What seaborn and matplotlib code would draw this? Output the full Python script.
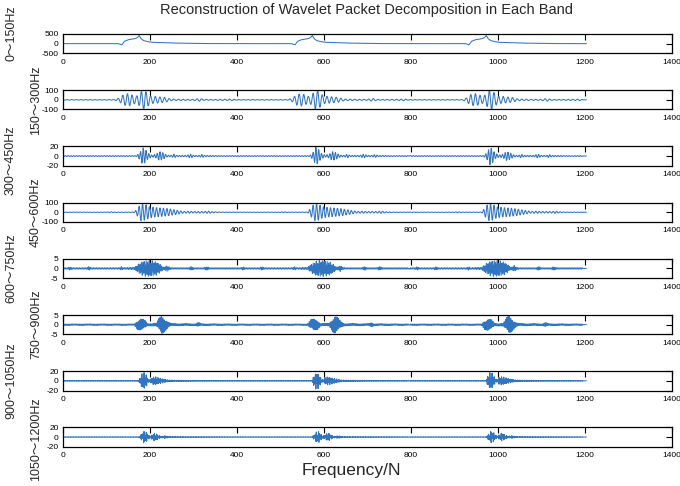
import numpy as np
import pandas as pd
import matplotlib
matplotlib.use("Agg")
import matplotlib.pyplot as plt
import seaborn as sns

# ---------------- data ----------------
band_labels = ["0～150Hz", "150～300Hz", "300～450Hz", "450～600Hz",
               "600～750Hz", "750～900Hz", "900～1050Hz", "1050～1200Hz"]
# oscillation frequency seen in each trace (Hz), sampled at 2400 Hz
band_carrier_hz = [0, 225, 375, 300, 675, 825, 975, 1000]
sample_rate = 2400
n_samples = 1205
event_offsets = [0, 398, 798]          # the pattern repeats three times
y_limits = [500, 100, 20, 100, 5, 5, 20, 20]
x_ticks = [0, 200, 400, 600, 800, 1000, 1200, 1400]

# envelope knots (position within one repetition, amplitude)
b1_pos = [0, 128, 136, 142, 150, 158, 166, 172, 176, 180, 186, 194, 205, 230, 260, 320, 397]
b1_val = [0, 0, -60, 120, 200, 230, 260, 320, 420, 260, 160, 110, 70, 50, 30, 5, 0]

b2_pos = [0, 120, 130, 140, 150, 160, 168, 176, 182, 188, 195, 202, 215, 235, 250, 300, 315, 325, 340, 390, 397]
b2_amp = [3, 3, 20, 55, 65, 50, 35, 60, 95, 100, 70, 40, 35, 25, 8, 5, 15, 5, 4, 8, 3]

b3_pos = [0, 170, 178, 184, 190, 196, 205, 215, 222, 230, 240, 250, 256, 262, 285, 294, 302, 315, 320, 326, 360, 397]
b3_amp = [1, 1, 8, 18, 15, 6, 2, 4, 10, 7, 2, 1.5, 4, 1.5, 1.5, 4, 1.5, 1.5, 3.5, 1.5, 1, 1]

b4_pos = [0, 100, 110, 120, 165, 172, 180, 190, 200, 215, 240, 265, 280, 290, 300, 325, 335, 345, 360, 397]
b4_amp = [2, 2, 6, 2, 3, 40, 90, 85, 60, 50, 40, 20, 8, 12, 8, 8, 12, 6, 3, 2]

b5_pos = [0, 12, 17, 22, 55, 60, 65, 130, 135, 140, 165, 175, 185, 195, 205, 215, 225, 232,
          240, 246, 252, 290, 296, 302, 325, 331, 337, 397]
b5_amp = [0.4, 0.4, 0.9, 0.4, 0.4, 1.0, 0.4, 0.4, 0.9, 0.4, 0.6, 2.5, 3.8, 4.2, 4.0, 3.5, 2.0, 0.6,
          1.5, 0.6, 0.4, 0.4, 1.0, 0.4, 0.4, 1.0, 0.4, 0.4]

b6_pos = [0, 165, 172, 180, 188, 195, 215, 222, 228, 235, 242, 250, 305, 312, 318, 397]
b6_amp = [0.4, 0.4, 2.5, 3.2, 2.5, 0.6, 0.8, 3.5, 5.0, 3.5, 1.5, 0.6, 0.5, 1.2, 0.5, 0.4]

b7_pos = [0, 175, 180, 184, 188, 192, 197, 202, 205, 212, 222, 232, 242, 260, 300, 397]
b7_amp = [0.8, 0.8, 12, 17, 17, 13, 3, 3, 7, 9, 6, 4, 2, 1.5, 1, 0.8]

b8_pos = [0, 175, 182, 186, 190, 195, 200, 206, 210, 214, 218, 226, 236, 242, 248, 280, 397]
b8_amp = [0.5, 0.5, 7, 12, 12, 7, 2, 5, 8, 8, 5, 1.5, 3, 1.5, 1, 0.8, 0.5]

knots = [(b1_pos, b1_val), (b2_pos, b2_amp), (b3_pos, b3_amp), (b4_pos, b4_amp),
         (b5_pos, b5_amp), (b6_pos, b6_amp), (b7_pos, b7_amp), (b8_pos, b8_amp)]

# ---------------- build the traces ----------------
n = np.arange(n_samples)
rows = []
for i, ((pos, amp), fc) in enumerate(zip(knots, band_carrier_hz)):
    env = np.zeros(n_samples)
    for off in event_offsets:
        rel = n - off
        mask = (rel >= 0) & (rel <= pos[-1])
        env[mask] = np.interp(rel[mask], pos, amp)
    if fc == 0:
        sig = env
    else:
        sig = env * np.cos(2 * np.pi * fc * n / sample_rate + 0.3)
    rows.append(pd.DataFrame({"N": n, "value": sig, "band": band_labels[i]}))
df = pd.concat(rows, ignore_index=True)

# ---------------- plot ----------------
sns.set_style("white")
plt.rcParams["font.family"] = ["Liberation Sans", "Noto Sans CJK SC", "DejaVu Sans"]

W, H = 680, 486
fig = plt.figure(figsize=(W / 100, H / 100), dpi=100)
line_color = "#3175c0"

left_px, right_px = 62.7, 671.7
label_x = [-0.075, -0.034] * 4
label_y = [1.05, 0.5, 0.3, 0.5, 0.5, 0.5, 0.5, 0.4]
for i, lab in enumerate(band_labels):
    top_px = 34 + 56.2 * i
    h_px = 19.3
    ax = fig.add_axes([left_px / W, 1 - (top_px + h_px) / H,
                       (right_px - left_px) / W, h_px / H])
    sub = df[df["band"] == lab]
    sns.lineplot(data=sub, x="N", y="value", ax=ax, color=line_color,
                 linewidth=0.75, estimator=None, legend=False)
    lim = y_limits[i]
    ax.set_xlim(0, 1400)
    ax.set_ylim(-lim, lim)
    ax.set_xticks(x_ticks)
    ax.set_yticks([-lim, 0, lim])
    ax.set_yticklabels([str(-lim), "0", str(lim)])
    ax.set_xlabel("")
    ax.set_ylabel(lab, fontsize=9)
    ax.yaxis.set_label_coords(label_x[i], label_y[i])
    ax.tick_params(direction="in", top=True, right=True, length=4, width=0.8,
                   labelsize=6, colors="black")
    ax.tick_params(axis="x", pad=4)
    ax.tick_params(axis="y", pad=3)
    for sp in ax.spines.values():
        sp.set_visible(True)
        sp.set_color("black")
        sp.set_linewidth(0.9)

fig.text(367 / W, 1 - 10 / H, "Reconstruction of Wavelet Packet Decomposition in Each Band",
         ha="center", va="center", fontsize=10.5)
fig.text(351 / W, 1 - 470 / H, "Frequency/N", ha="center", va="center", fontsize=12.5)

fig.savefig("out.png", dpi=100, facecolor="white")
